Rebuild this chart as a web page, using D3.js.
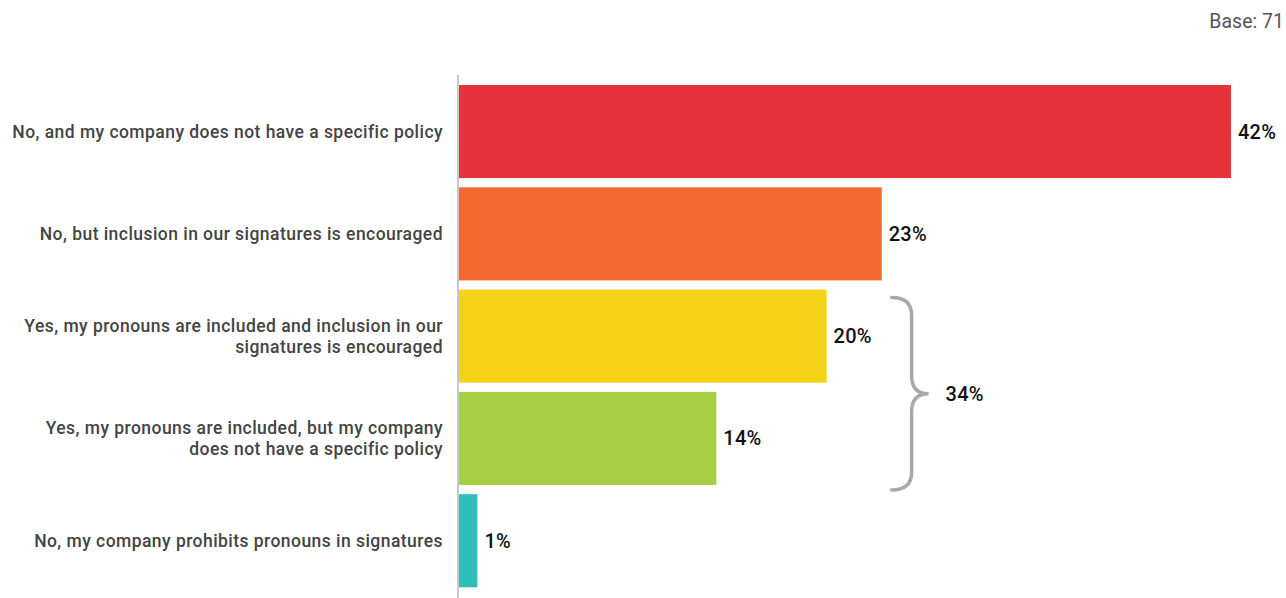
<!DOCTYPE html>
<html>
<head>
<meta charset="utf-8">
<script src="https://cdn.jsdelivr.net/npm/d3@7"></script>
<style>
  html, body { margin: 0; padding: 0; background: #fff; }
  svg { display: block; }
</style>
</head>
<body>
<svg id="chart" width="1286" height="598"></svg>
<script>
// Survey answers, percent of respondents
const categories = [
  ["No, and my company does not have a specific policy"],
  ["No, but inclusion in our signatures is encouraged"],
  ["Yes, my pronouns are included and inclusion in our", "signatures is encouraged"],
  ["Yes, my pronouns are included, but my company", "does not have a specific policy"],
  ["No, my company prohibits pronouns in signatures"]
];
const values = [42, 23, 20, 14, 1];
const colors = ["#E8323A", "#F5682F", "#F5D216", "#A6CF46", "#2EBDB8"];
const groupIdx = [2, 3];          // the two "Yes" answers bracketed together
const groupLabel = "34%";
const baseText = "Base: 71";

const svg = d3.select("#chart");
const font = "Roboto, 'Noto Sans', sans-serif";

const x0 = 459;
const x = d3.scaleLinear().domain([0, 42]).range([x0, 1231]);
const keys = d3.range(values.length);
const y = d3.scaleBand().domain(keys).range([80.4, 591.9])
  .paddingInner(0.09).paddingOuter(0.045);

// base note
svg.append("text")
  .attr("x", 1284).attr("y", 28)
  .attr("text-anchor", "end")
  .attr("font-family", font).attr("font-size", 19.5)
  .attr("fill", "#555")
  .text(baseText);

// bars
svg.append("g").selectAll("rect").data(keys).join("rect")
  .attr("x", x(0))
  .attr("y", i => y(i))
  .attr("width", i => x(values[i]) - x(0))
  .attr("height", y.bandwidth())
  .attr("fill", i => colors[i]);

// vertical baseline
svg.append("line")
  .attr("x1", x0 - 1).attr("x2", x0 - 1)
  .attr("y1", 75).attr("y2", 598)
  .attr("stroke", "#c8c8c8").attr("stroke-width", 2);

// category labels
const lineH = 21;
const lab = svg.append("g").selectAll("text").data(keys).join("text")
  .attr("text-anchor", "end")
  .attr("font-family", font).attr("font-size", 17.5).attr("font-weight", 500)
  .attr("letter-spacing", 0.45)
  .attr("fill", "#444")
  .attr("transform", i => {
    const n = categories[i].length;
    const cy = y(i) + y.bandwidth() / 2 - (n - 1) * lineH / 2;
    return `translate(443,${cy})`;
  });
lab.selectAll("tspan").data(i => categories[i]).join("tspan")
  .attr("x", 0)
  .attr("y", (d, j) => j * lineH)
  .attr("dy", "0.35em")
  .text(d => d);

// value labels
svg.append("g").selectAll("text").data(keys).join("text")
  .attr("x", i => x(values[i]) + 7)
  .attr("y", i => y(i) + y.bandwidth() / 2)
  .attr("dy", "0.35em")
  .attr("font-family", font).attr("font-size", 20).attr("font-weight", 500)
  .attr("letter-spacing", 0.2)
  .attr("fill", "#111")
  .text(i => values[i] + "%");

// curly brace grouping the "Yes" answers
const bTop = y(groupIdx[0]) + 8;
const bBot = y(groupIdx[1]) + y.bandwidth() + 5;
const bMid = (bTop + bBot) / 2;
const bx = x(d3.max(groupIdx, i => values[i])) + 65;
const stem = bx + 20, tip = bx + 37, r = 18;
const brace = d3.path();
brace.moveTo(bx, bTop);
brace.quadraticCurveTo(stem, bTop, stem, bTop + r);
brace.lineTo(stem, bMid - r);
brace.quadraticCurveTo(stem, bMid, tip, bMid);
brace.quadraticCurveTo(stem, bMid, stem, bMid + r);
brace.lineTo(stem, bBot - r);
brace.quadraticCurveTo(stem, bBot, bx, bBot);
svg.append("path")
  .attr("d", brace.toString())
  .attr("fill", "none")
  .attr("stroke", "#a8a8a8").attr("stroke-width", 3.5)
  .attr("stroke-linecap", "round");

svg.append("text")
  .attr("x", tip + 17).attr("y", bMid)
  .attr("dy", "0.35em")
  .attr("font-family", font).attr("font-size", 20).attr("font-weight", 500)
  .attr("letter-spacing", 0.2)
  .attr("fill", "#111")
  .text(groupLabel);
</script>
</body>
</html>
